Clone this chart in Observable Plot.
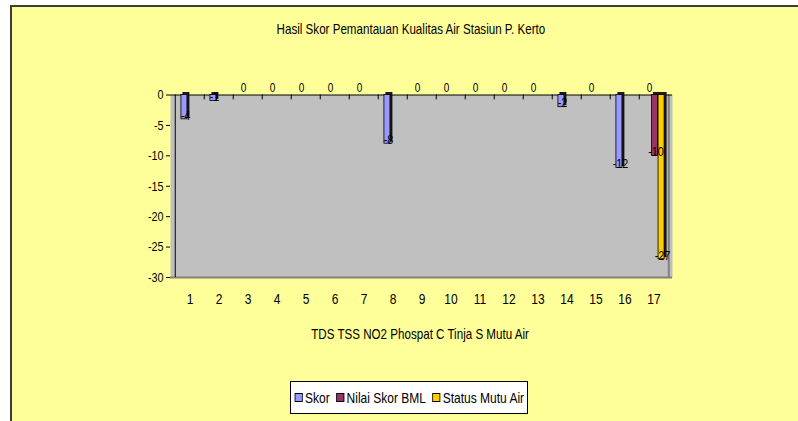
<!DOCTYPE html>
<html>
<head>
<meta charset="utf-8">
<script src="https://cdn.jsdelivr.net/npm/d3@7"></script>
<script src="https://cdn.jsdelivr.net/npm/@observablehq/plot@0.6"></script>
<style>
  body { margin: 0; background: #fff; }
  #chart {
    position: relative; width: 798px; height: 421px; overflow: hidden;
    font-family: "Liberation Sans", Arial, sans-serif;
    color: #000;
  }
  #panel {
    position: absolute; left: 10px; top: 5px; right: 0; bottom: 0;
    background: #FFFF99;
    border-left: 2px solid #3c3c3c; border-top: 2px solid #3c3c3c;
  }
  #plot { position: absolute; left: 0; top: 0; }
  .line {
    position: absolute; left: 0; text-align: center;
    font-size: 14.5px; line-height: 15px; white-space: nowrap;
  }
  .line span { display: inline-block; transform: scaleX(0.8); transform-origin: center; }
  #title { width: 822px; top: 22px; }
  #xtitle { width: 840px; top: 327px; }
  #legend {
    position: absolute; left: 290px; top: 381px; width: 236px; height: 31px;
    background: #fff; border: 1px solid #000;
    display: flex; align-items: center; justify-content: center;
  }
  #legend .inner {
    display: flex; align-items: center; gap: 8px; white-space: nowrap;
    font-size: 15px; transform: scaleX(0.8); transform-origin: center;
  }
  #legend .item { display: flex; align-items: center; gap: 3px; }
  #legend .sw { width: 8px; height: 7px; border: 1px solid #000; }
</style>
</head>
<body>
<div id="chart">
  <div id="panel"></div>
  <div id="title" class="line"><span>Hasil Skor Pemantauan Kualitas Air Stasiun P. Kerto</span></div>
  <div id="plot"></div>
  <div id="xtitle" class="line"><span>TDS TSS NO2 Phospat C Tinja S Mutu Air</span></div>
  <div id="legend"><div class="inner"></div></div>
</div>
<script>
// Monitoring points along the x axis
const categories = ["1", "2", "3", "4", "5", "6", "7", "8", "9", "10", "11", "12", "13", "14", "15", "16", "17"];

// Series values per point (null = no value for that point)
const skor = [-4, -1, 0, 0, 0, 0, 0, -8, 0, 0, 0, 0, 0, -2, 0, -12, 0];
const nilaiSkorBML = [null, null, null, null, null, null, null, null, null, null, null, null, null, null, null, null, -10];
const statusMutuAir = [null, null, null, null, null, null, null, null, null, null, null, null, null, null, null, null, -27];

const seriesNames = ["Skor", "Nilai Skor BML", "Status Mutu Air"];
const seriesColors = ["#9999FF", "#993366", "#FFCC00"];
const yTicks = [0, -5, -10, -15, -20, -25, -30];

const seriesValues = [skor, nilaiSkorBML, statusMutuAir];
const rows = [];
seriesValues.forEach((vals, k) => {
  vals.forEach((v, i) => {
    if (v !== null) rows.push({category: categories[i], series: seriesNames[k], value: v});
  });
});

// Frame geometry
const W = 798, H = 320;
const mLeft = 170, mRight = 126, mTop = 94.5, mBottom = 43;
const step = (W - mLeft - mRight) / categories.length;
const barW = step / 4.5;               // three bars per group, gap of 1.5 bars
const inset = (step - barW) / 2;
const slotDx = k => (k - 1) * barW + 1;

const marks = [
  Plot.frame({fill: "#C0C0C0", stroke: null}),
  Plot.ruleY([-30], {stroke: "#808080", strokeWidth: 2}),
  Plot.ruleX([categories[categories.length - 1]], {stroke: "#808080", strokeWidth: 2, dx: step / 2}),
  Plot.ruleX([categories[0]], {stroke: "#000", dx: -step / 2}),
  Plot.ruleX(categories.slice(1), {y1: 0, y2: -0.8, stroke: "#000", dx: -step / 2}),
  Plot.ruleY([0], {stroke: "#000"})
];

// columns: dark side/top face behind, coloured front face
seriesNames.forEach((name, k) => {
  const data = rows.filter(d => d.series === name);
  const dx = slotDx(k);
  marks.push(Plot.barY(data, {
    x: "category", y: "value", fill: "#1e1e1e", stroke: "#000", strokeWidth: 0.8,
    insetLeft: inset, insetRight: inset, dx: dx + 2, dy: -2
  }));
  marks.push(Plot.barY(data, {
    x: "category", y: "value", fill: seriesColors[k], stroke: "#000", strokeWidth: 0.8,
    insetLeft: inset, insetRight: inset, dx
  }));
});

// value labels on top of every column
seriesNames.forEach((name, k) => {
  const data = rows.filter(d => d.series === name);
  const dx = slotDx(k) + 1;
  marks.push(Plot.text(data.filter(d => d.value === 0), {
    x: "category", y: "value", text: d => String(d.value),
    dx, dy: -7, fontSize: 12.5, fill: "#000"
  }));
  marks.push(Plot.text(data.filter(d => d.value !== 0), {
    x: "category", y: "value", text: d => String(d.value),
    dx, dy: -4, fontSize: 13.5, fill: "#000"
  }));
});

marks.push(
  Plot.axisY({ticks: yTicks, tickSize: 4, tickPadding: 3, tickFormat: d => String(d), fontSize: 13.5, label: null}),
  Plot.axisX({tickSize: 0, tickPadding: 16, fontSize: 15, label: null})
);

const chart = Plot.plot({
  width: W, height: H,
  marginLeft: mLeft, marginRight: mRight, marginTop: mTop, marginBottom: mBottom,
  style: {background: "transparent", fontFamily: '"Liberation Sans", Arial, sans-serif', color: "#000"},
  x: {domain: categories, padding: 0},
  y: {domain: [-30, 0]},
  marks
});
document.getElementById("plot").appendChild(chart);

// narrow lettering, as in the original chart style
chart.querySelectorAll("text").forEach(t => {
  const len = t.getComputedTextLength();
  if (len > 0) {
    t.setAttribute("textLength", (len * 0.8).toFixed(2));
    t.setAttribute("lengthAdjust", "spacingAndGlyphs");
  }
});

// Legend
const legend = document.querySelector("#legend .inner");
seriesNames.forEach((name, k) => {
  const item = document.createElement("div");
  item.className = "item";
  const sw = document.createElement("span");
  sw.className = "sw";
  sw.style.background = seriesColors[k];
  const label = document.createElement("span");
  label.textContent = name;
  item.append(sw, label);
  legend.appendChild(item);
});
</script>
</body>
</html>
